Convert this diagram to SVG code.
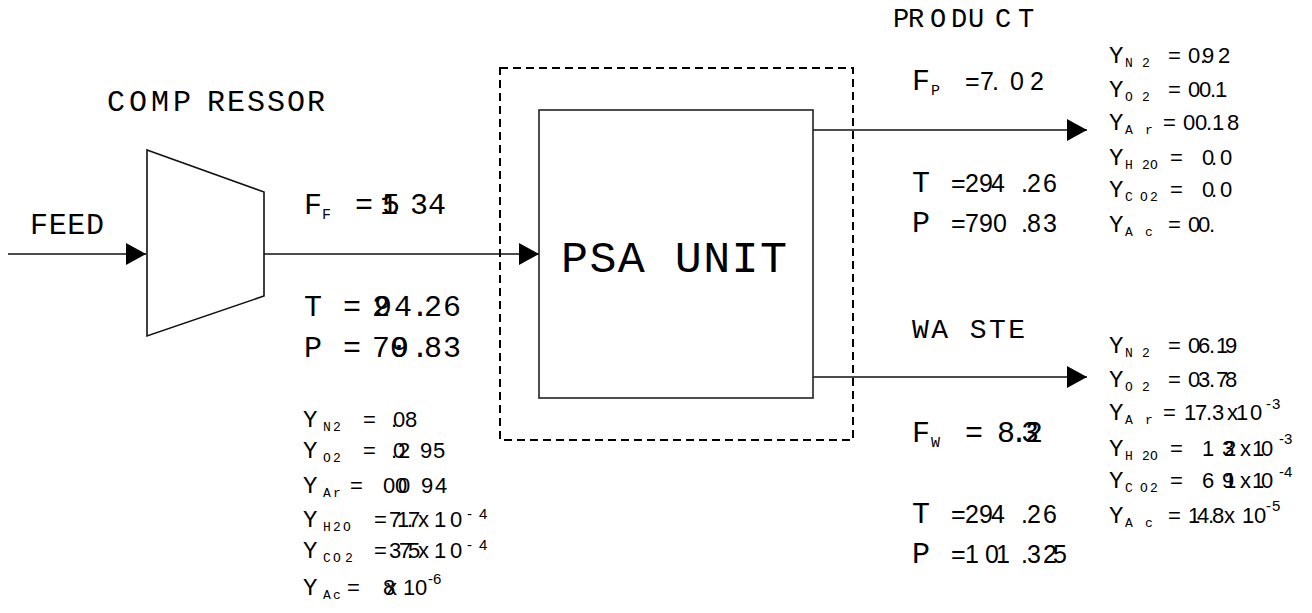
<svg xmlns="http://www.w3.org/2000/svg" width="1312" height="613" viewBox="0 0 1312 613">
<style>
.m{font-family:"Liberation Mono","Courier New",monospace;fill:#000}
.s{font-family:"Liberation Sans",Arial,sans-serif;fill:#000}
.y{font-size:24px}
.sub{font-size:13px}
.n{font-size:22px}
.sup{font-size:15px}
.big{font-size:30px}
.ln{stroke:#111;stroke-width:1.6;fill:none}
</style>
<defs>
<marker id="ah" markerUnits="userSpaceOnUse" markerWidth="22" markerHeight="24" refX="20" refY="11" orient="auto" viewBox="0 0 22 24">
<path d="M0,0 L20,11 L0,22 Z" fill="#000"/>
</marker>
</defs>
<rect width="1312" height="613" fill="#fff"/>

<g id="connectors">
<line class="ln" x1="8" y1="254" x2="146" y2="254" marker-end="url(#ah)"/>
<line class="ln" x1="264" y1="254" x2="539" y2="254" marker-end="url(#ah)"/>
<line class="ln" x1="813" y1="130" x2="1087" y2="130" marker-end="url(#ah)"/>
<line class="ln" x1="813" y1="377" x2="1087" y2="377" marker-end="url(#ah)"/>
</g>

<g id="boundary">
<rect x="500" y="68" width="353" height="372" fill="none" stroke="#000" stroke-width="2" stroke-dasharray="8 5"/>
</g>

<g id="compressor">
<polygon points="147,150 264,192 264,296 147,336" fill="#fff" stroke="#111" stroke-width="1.6"/>
<text class="m big" y="111" x="107 129 151 173 207 227 247 267 287 307">COMPRESSOR</text>
</g>

<g id="feed">
<text class="m big" x="30" y="234" textLength="74" lengthAdjust="spacing">FEED</text>
</g>

<g id="psa">
<rect x="539" y="110" width="274" height="288" fill="#fff" stroke="#222" stroke-width="1.6"/>
<text class="m" x="561" y="272" font-size="45" textLength="226" lengthAdjust="spacing">PSA UNIT</text>
</g>

<g id="feed-stream">
<text class="m big" x="304" y="214">F</text>
<text class="m" x="322" y="219" font-size="15">F</text>
<text class="m big" x="355" y="214">=</text>
<text class="m big" y="214" x="380 382 410 428">1534</text>
<text class="m big" x="304" y="316">T</text>
<text class="m big" x="343" y="316">=</text>
<text class="m big" y="316" x="372 374 394 411 424 443">294.26</text>
<text class="m big" x="304" y="357">P</text>
<text class="m big" x="343" y="357">=</text>
<text class="m big" y="357" x="372 390 391 411 424 443">709.83</text>

<text class="m y" x="303" y="427">Y</text><text class="m sub" y="431" x="323 333">N2</text>
<text class="s n" x="363" y="427">=</text><text class="s n" y="427" x="391 393 405">.08</text>

<text class="m y" x="303" y="458">Y</text><text class="m sub" y="462" x="323 333">O2</text>
<text class="s n" x="363" y="458">=</text><text class="s n" y="458" x="391 393 398 420 433">.0295</text>

<text class="m y" x="303" y="493">Y</text><text class="m sub" y="497" x="323 333">Ar</text>
<text class="s n" x="350" y="493">=</text><text class="s n" y="493" x="383 395 398 421 435">00094</text>

<text class="m y" x="303" y="527">Y</text><text class="m sub" y="531" x="323 333 343">H2O</text>
<text class="s n" x="374" y="527">=</text><text class="s n" y="527" x="389 397 407 408 418 434 450">71.7x10</text>
<text class="s sup" y="519" x="467 479">-4</text>

<text class="m y" x="303" y="558">Y</text><text class="m sub" y="562" x="323 333 345">CO2</text>
<text class="s n" x="374" y="558">=</text><text class="s n" y="558" x="389 399 407 408 418 434 450">37.5x10</text>
<text class="s sup" y="550" x="467 479">-4</text>

<text class="m y" x="303" y="595">Y</text><text class="m sub" y="599" x="323 333">Ac</text>
<text class="s n" x="347" y="595">=</text><text class="s n" y="595" x="383 386 403 415">8x10</text>
<text class="s sup" y="584" x="428 433">-6</text>
</g>

<g id="product">
<text class="m" font-size="27" y="27" x="893 908 930 951 968 995 1018">PRODUCT</text>
<text class="m big" x="912" y="90">F</text>
<text class="m" x="931" y="95" font-size="15">P</text>
<text class="s" font-size="25" x="965" y="90">=</text>
<text class="s" font-size="25" y="90" x="980 992 1010 1030">7.02</text>
<text class="m big" x="912" y="192">T</text>
<text class="s" font-size="25" x="951" y="192">=</text>
<text class="s" font-size="25" y="192" x="965 979 991 1021 1027 1043">294.26</text>
<text class="m big" x="912" y="232">P</text>
<text class="s" font-size="25" x="951" y="232">=</text>
<text class="s" font-size="25" y="232" x="965 979 993 1021 1027 1043">790.83</text>

<text class="m y" x="1109" y="63">Y</text><text class="m sub" y="67" x="1125 1142">N2</text>
<text class="s n" x="1168" y="63">=</text><text class="s n" y="63" x="1188 1200 1202 1218">0.92</text>

<text class="m y" x="1109" y="97">Y</text><text class="m sub" y="101" x="1125 1142">O2</text>
<text class="s n" x="1168" y="97">=</text><text class="s n" y="97" x="1188 1199 1210 1215">00.1</text>

<text class="m y" x="1109" y="130">Y</text><text class="m sub" y="134" x="1125 1145">Ar</text>
<text class="s n" x="1163" y="130">=</text><text class="s n" y="130" x="1183 1195 1206 1212 1227">00.18</text>

<text class="m y" x="1109" y="165">Y</text><text class="m sub" y="169" x="1125 1142 1150">H2O</text>
<text class="s n" x="1170" y="165">=</text><text class="s n" y="165" x="1202 1211 1220">0.0</text>

<text class="m y" x="1109" y="197">Y</text><text class="m sub" y="201" x="1125 1140 1150">CO2</text>
<text class="s n" x="1170" y="197">=</text><text class="s n" y="197" x="1202 1211 1220">0.0</text>

<text class="m y" x="1109" y="232">Y</text><text class="m sub" y="236" x="1125 1145">Ac</text>
<text class="s n" x="1168" y="232">=</text><text class="s n" y="232" x="1188 1198 1209">00.</text>
</g>

<g id="waste">
<text class="m" font-size="28" x="912" y="338" textLength="113" lengthAdjust="spacing">WA STE</text>
<text class="m big" x="912" y="442">F</text>
<text class="m" x="931" y="447" font-size="15">W</text>
<text class="m big" x="965" y="442">=</text>
<text class="m big" y="442" x="997 1010 1021 1025">8.32</text>
<text class="m big" x="912" y="523">T</text>
<text class="s" font-size="25" x="951" y="523">=</text>
<text class="s" font-size="25" y="523" x="965 979 991 1021 1027 1043">294.26</text>
<text class="m big" x="912" y="563">P</text>
<text class="s" font-size="25" x="951" y="563">=</text>
<text class="s" font-size="25" y="563" x="965 985 996 1021 1027 1043 1053">101.325</text>

<text class="m y" x="1109" y="353">Y</text><text class="m sub" y="357" x="1125 1142">N2</text>
<text class="s n" x="1168" y="353">=</text><text class="s n" y="353" x="1188 1198 1209 1216 1225">06.19</text>

<text class="m y" x="1109" y="387">Y</text><text class="m sub" y="391" x="1125 1142">O2</text>
<text class="s n" x="1168" y="387">=</text><text class="s n" y="387" x="1188 1198 1209 1216 1225">03.78</text>

<text class="m y" x="1109" y="420">Y</text><text class="m sub" y="424" x="1125 1145">Ar</text>
<text class="s n" x="1163" y="420">=</text><text class="s n" y="420" x="1184 1195 1206 1212 1227 1236 1250">17.3x10</text>
<text class="s sup" y="409" x="1266 1272">-3</text>

<text class="m y" x="1109" y="456">Y</text><text class="m sub" y="460" x="1125 1142 1150">H2O</text>
<text class="s n" x="1170" y="456">=</text><text class="s n" y="456" x="1202 1222 1224 1240 1252 1261">132x10</text>
<text class="s sup" y="444" x="1279 1284">-3</text>

<text class="m y" x="1109" y="488">Y</text><text class="m sub" y="492" x="1125 1140 1150">CO2</text>
<text class="s n" x="1170" y="488">=</text><text class="s n" y="488" x="1202 1222 1224 1240 1252 1261">691x10</text>
<text class="s sup" y="477" x="1279 1284">-4</text>

<text class="m y" x="1109" y="523">Y</text><text class="m sub" y="527" x="1125 1145">Ac</text>
<text class="s n" x="1168" y="523">=</text><text class="s n" y="523" x="1188 1197 1208 1212 1224 1242 1254">14.8x10</text>
<text class="s sup" y="511" x="1266 1272">-5</text>
</g>
</svg>
